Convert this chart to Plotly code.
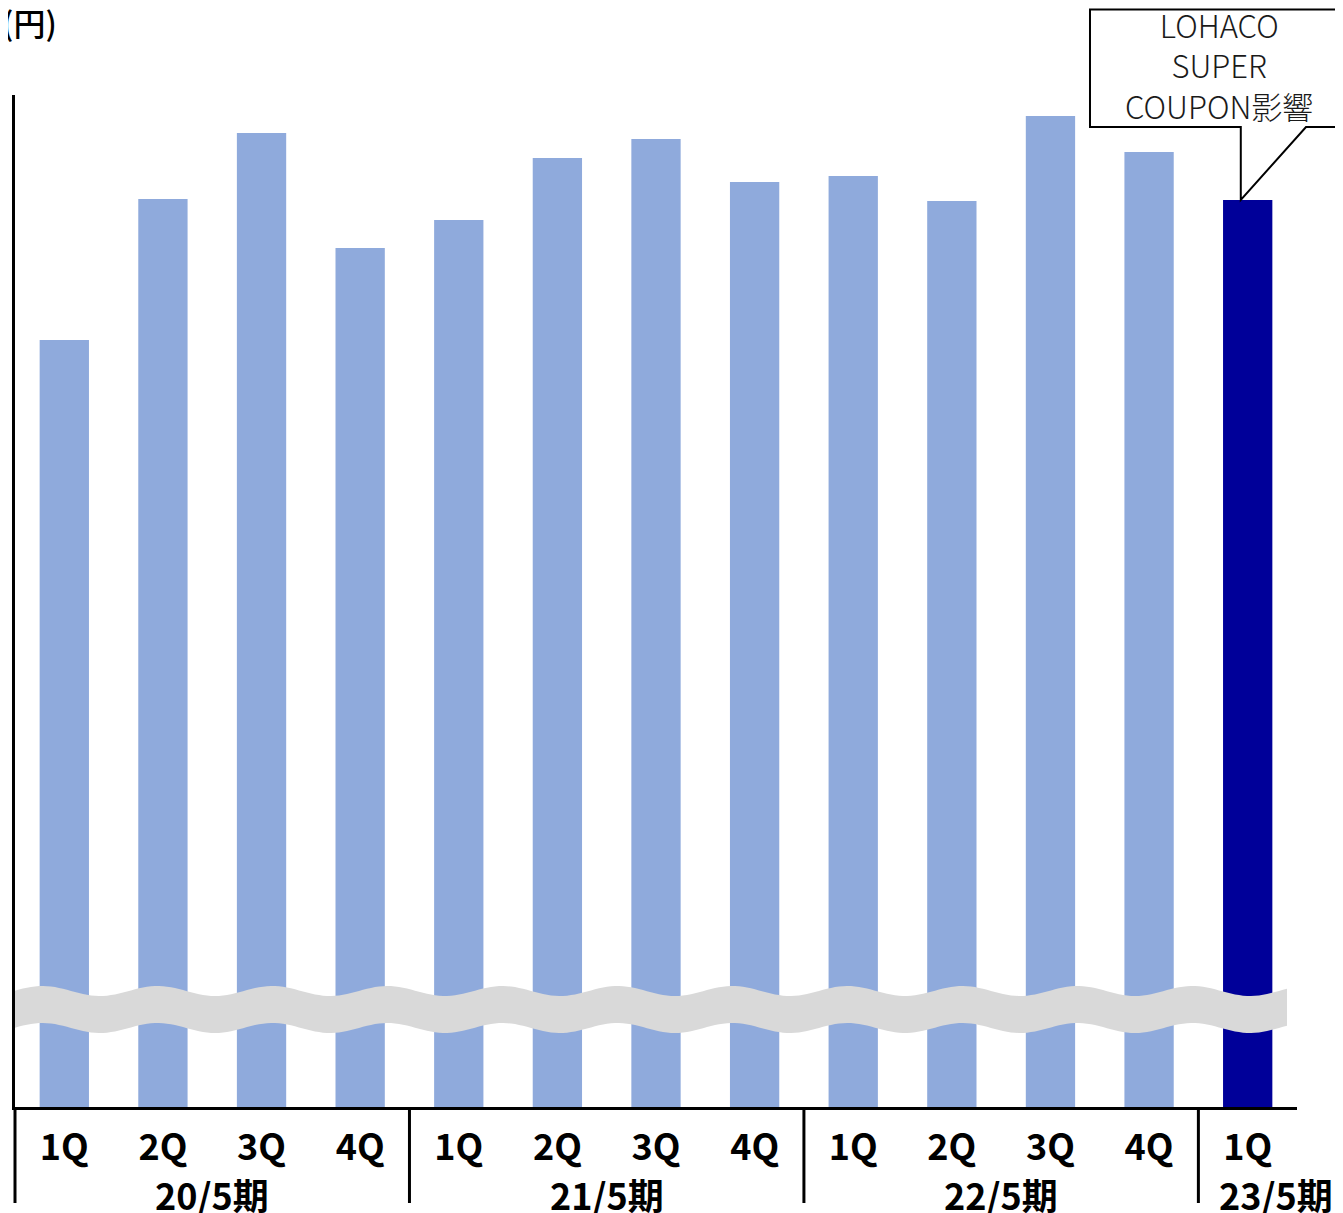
import math
import plotly.graph_objects as go

# 四半期ごとの値（縦軸は省略表示のため、図から読み取った相対値）
quarters = ["1Q", "2Q", "3Q", "4Q", "1Q", "2Q", "3Q", "4Q", "1Q", "2Q", "3Q", "4Q", "1Q"]
values = [767, 908, 974, 859, 887, 949, 968, 925, 931, 906, 991, 955, 907]
bar_colors = ["#8FAADC"] * 12 + ["#000099"]

periods = ["20/5期", "21/5期", "22/5期", "23/5期"]
period_pos = [1.5, 5.5, 9.5, 12.29]
separators = [3.5, 7.5, 11.5]

callout_text = "LOHACO<br>SUPER<br>COUPON影響"
unit_label = "(円)"

# ページ本体の余白(8px)の分だけ図を小さくする
OFF = 8
W, H = 1343 - OFF, 1213 - OFF
L, R, T, B = 7, 46, 87, 106
PW, PH = W - L - R, H - T - B
YMAX = 1012
FONT = "Noto Sans CJK JP"


# 画面上の位置 -> paper 座標
def px(x):
    return (x - OFF - L) / PW


def py(y):
    return (H - B - (y - OFF)) / PH


def xd(i):
    return (i + 0.5) / len(quarters)


x = list(range(len(quarters)))

fig = go.Figure()
fig.add_trace(
    go.Bar(
        x=x,
        y=values,
        marker=dict(color=bar_colors, line=dict(width=0)),
        hoverinfo="skip",
    )
)

shapes = []

# 縦軸の下への延長と期の区切り線
shapes.append(dict(type="line", xref="paper", yref="paper", x0=0, x1=0,
                   y0=0, y1=py(1203), line=dict(color="black", width=3)))
for s in separators:
    shapes.append(dict(type="line", xref="paper", yref="paper", x0=xd(s), x1=xd(s),
                       y0=py(1109), y1=py(1203), line=dict(color="black", width=3)))

# 省略線（波線）
pts_top, pts_bot = [], []
for k in range(0, 1273 + 1, 4):
    xx = 15 + k
    yt = 991 + 5 * math.cos(2 * math.pi * (xx - 100) / 115)
    pts_top.append((px(xx), py(yt)))
    pts_bot.append((px(xx), py(yt + 37)))
path = "M " + " L ".join(f"{a:.5f},{b:.5f}" for a, b in pts_top)
path += " L " + " L ".join(f"{a:.5f},{b:.5f}" for a, b in reversed(pts_bot)) + " Z"
shapes.append(dict(type="path", xref="paper", yref="paper", path=path,
                   fillcolor="#D9D9D9", line=dict(width=0), layer="above"))

# 吹き出し
tip_x = xd(12 - 0.07)
tip_y = values[12] / YMAX
pts = [(px(1090), py(9.5)), (px(1400), py(9.5)), (px(1400), py(127)), (px(1306), py(127)),
       (tip_x, tip_y), (tip_x, py(127)), (px(1090), py(127))]
cpath = "M " + " L ".join(f"{a:.5f},{b:.5f}" for a, b in pts) + " Z"
shapes.append(dict(type="path", xref="paper", yref="paper", path=cpath,
                   fillcolor="white", line=dict(color="black", width=2), layer="above"))

annotations = [
    dict(text=callout_text, xref="paper", yref="paper", x=px(1219), y=py(65),
         xanchor="center", yanchor="middle", showarrow=False,
         font=dict(family=FONT, size=31, color="#1a1a1a", weight=300)),
    dict(text=unit_label, xref="paper", yref="paper", x=px(0), y=py(22),
         xanchor="left", yanchor="middle", showarrow=False,
         font=dict(family=FONT, size=32, color="black", weight=500)),
]
for p, pos in zip(periods, period_pos):
    annotations.append(dict(text=p, xref="paper", yref="paper", x=xd(pos), y=py(1194),
                            xanchor="center", yanchor="middle", showarrow=False,
                            font=dict(family=FONT, size=36, color="black", weight="bold")))

fig.update_layout(
    width=W,
    height=H,
    margin=dict(l=L, r=R, t=T, b=B, pad=0),
    plot_bgcolor="white",
    paper_bgcolor="white",
    bargap=0.5,
    showlegend=False,
    shapes=shapes,
    annotations=annotations,
    xaxis=dict(
        range=[-0.5, 12.5],
        tickvals=x,
        ticktext=quarters,
        showgrid=False,
        zeroline=False,
        showline=True,
        linecolor="black",
        linewidth=3,
        ticks="",
        ticklabelstandoff=7,
        tickfont=dict(family=FONT, size=36, color="black", weight="bold"),
    ),
    yaxis=dict(
        range=[0, YMAX],
        showgrid=False,
        zeroline=False,
        showline=True,
        linecolor="black",
        linewidth=3,
        showticklabels=False,
        ticks="",
    ),
)

fig.write_html("out.html")
